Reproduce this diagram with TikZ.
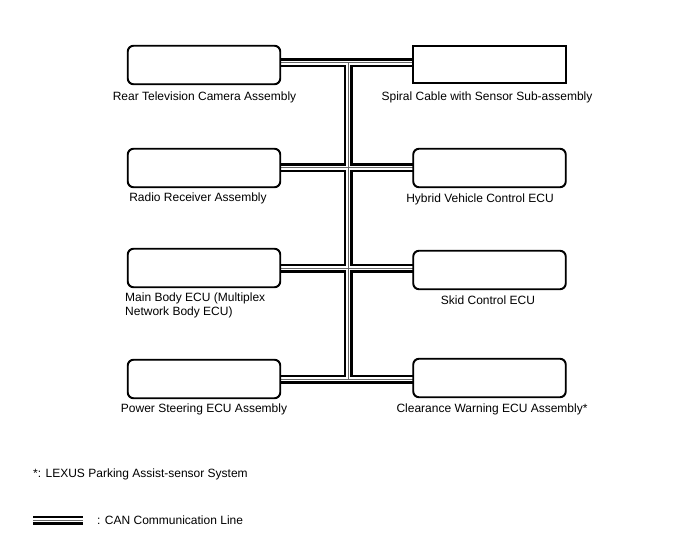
\documentclass[tikz,border=0pt]{standalone}
\usepackage{fontspec}
\setmainfont{Liberation Sans}
\begin{document}
\begin{tikzpicture}[x=1bp,y=-1bp,
  ecu/.style={draw=black, line width=1.2bp, rounded corners=6bp, minimum width=152bp, minimum height=38bp, inner sep=0pt, fill=white},
  ecusq/.style={draw=black, line width=1.2bp, minimum width=152bp, minimum height=37bp, inner sep=0pt, fill=white},
  lbl/.style={font=\fontsize{12bp}{13.5bp}\selectfont, inner sep=0pt, align=center},
  busblack/.style={draw=black, line width=9bp},
  buswhite/.style={draw=white, line width=4bp},
  busgray/.style={draw=black!60, line width=1bp}
]
\useasboundingbox (0,0) rectangle (688,560);

% boxes
\node[ecu]   (L1) at (204,65) {};
\node[ecusq] (R1) at (489.5,64.5) {};
\node[ecu]   (L2) at (204,168) {};
\node[ecu]   (R2) at (489.5,168) {};
\node[ecu]   (L3) at (204,268) {};
\node[ecu]   (R3) at (489.5,270) {};
\node[ecu]   (L4) at (204,379) {};
\node[ecu]   (R4) at (489.5,378) {};

% bus coordinates
\coordinate (vt) at (348,63);
\coordinate (vb) at (348,379);
\coordinate (a1) at (L1.east |- vt);
\coordinate (b1) at (R1.west |- vt);
\coordinate (a2) at (L2.east);
\coordinate (b2) at (R2.west |- a2);
\coordinate (a3) at (L3.east);
\coordinate (b3) at (R3.west |- a3);
\coordinate (a4) at (L4.east);
\coordinate (b4) at (R4.west |- a4);

\foreach \s in {busblack,buswhite,busgray}{
  \path[\s] (a1) -- (b1);
  \path[\s] (a2) -- (b2);
  \path[\s] (a3) -- (b3);
  \path[\s] (a4) -- (b4);
  \path[\s] (vt) -- (vb);
}
% redraw box outlines over bus ends
\foreach \n in {L1,L2,L3,L4,R2,R3,R4}{
  \draw[line width=1.2bp, rounded corners=6bp] (\n.south west) rectangle (\n.north east);
}
\draw[line width=1.2bp] (R1.south west) rectangle (R1.north east);

% labels
\node[lbl] (tL1) at (204.5,97) {Rear Television Camera Assembly};
\node[lbl] (tR1) at (487,97) {Spiral Cable with Sensor Sub-assembly};
\node[lbl] (tL2) at (198,198) {Radio Receiver Assembly};
\node[lbl] (tR2) at (480,199) {Hybrid Vehicle Control ECU};
\node[lbl, align=left, anchor=west] (tL3) at (125,305.5) {Main Body ECU (Multiplex\\Network Body ECU)};
\node[lbl] (tR3) at (488,300) {Skid Control ECU};
\node[lbl] (tL4) at (204,409) {Power Steering ECU Assembly};
\node[lbl] (tR4) at (492,409) {Clearance Warning ECU Assembly*};

% footnote and legend
\node[lbl, anchor=west] (fn) at (33,474) {*: LEXUS Parking Assist-sensor System};
\coordinate (lg1) at (33,520);
\coordinate (lg2) at (83,520);
\foreach \s in {busblack,buswhite,busgray}{
  \path[\s] (lg1) -- (lg2);
}
\node[lbl, anchor=west] (lgt) at (97,520) {: CAN Communication Line};
\end{tikzpicture}
\end{document}
